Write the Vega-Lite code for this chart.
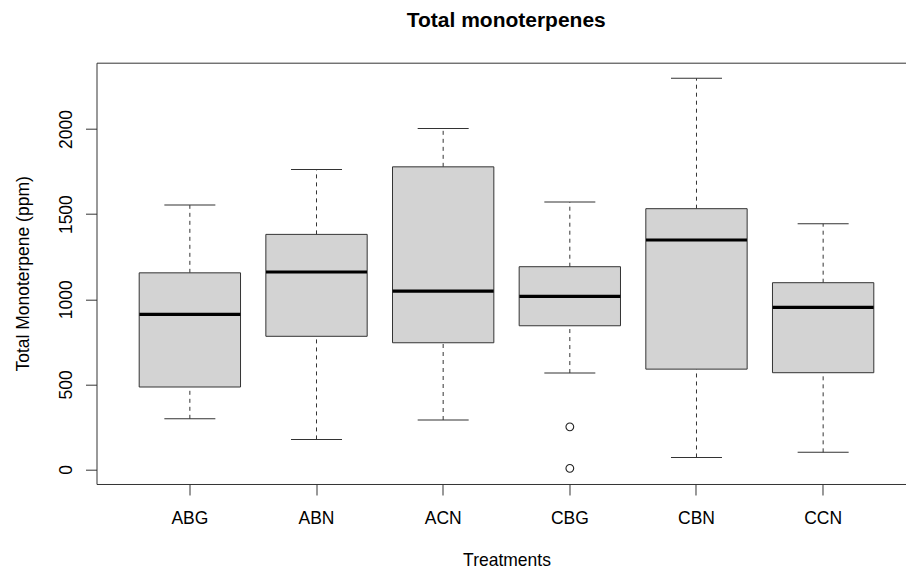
{
  "$schema": "https://vega.github.io/schema/vega-lite/v6.json",
  "width": 809.5,
  "height": 421.3,
  "autosize": "none",
  "padding": {"left": 96.5, "top": 62.7, "right": 0, "bottom": 86.7},
  "background": "white",
  "config": {"view": {"stroke": null}, "font": "Liberation Sans"},
  "title": {"text": "Total monoterpenes", "fontSize": 21, "fontWeight": "bold", "font": "Liberation Sans", "color": "black", "anchor": "middle", "frame": "group", "dx": 5, "offset": 32},
  "datasets": {
    "stats": [
      {"group": "ABG", "lower": 297, "q1": 484, "median": 911, "q3": 1155, "upper": 1553},
      {"group": "ABN", "lower": 176, "q1": 782, "median": 1160, "q3": 1381, "upper": 1763},
      {"group": "ACN", "lower": 290, "q1": 744, "median": 1048, "q3": 1778, "upper": 2004},
      {"group": "CBG", "lower": 566, "q1": 844, "median": 1017, "q3": 1191, "upper": 1571},
      {"group": "CBN", "lower": 70, "q1": 589, "median": 1348, "q3": 1532, "upper": 2298},
      {"group": "CCN", "lower": 100, "q1": 568, "median": 952, "q3": 1097, "upper": 1443}
    ],
    "outliers": [
      {"group": "CBG", "value": 250},
      {"group": "CBG", "value": 6}
    ]
  },
  "resolve": {"axis": {"x": "independent"}},
  "layer": [
    {
      "data": {"name": "stats"},
      "mark": {"type": "rule", "strokeDash": [4, 4], "color": "#333", "strokeWidth": 1},
      "encoding": {
        "x": {"field": "group", "type": "nominal", "sort": null,
          "scale": {"type": "band", "domain": ["ABG", "ABN", "ACN", "CBG", "CBN", "CCN"], "range": [0, 820], "paddingInner": 0, "paddingOuter": 0.237},
          "axis": {"orient": "bottom", "title": "Treatments", "labelAngle": 0, "domain": true, "domainColor": "#333", "tickColor": "#333", "tickSize": 11, "labelPadding": 15, "labelFontSize": 17.5, "labelColor": "black", "labelFont": "Liberation Sans", "titleFontSize": 17.5, "titleFontWeight": "normal", "titleColor": "black", "titleFont": "Liberation Sans", "titleX": 410, "titleY": 82, "titleBaseline": "alphabetic", "titleAnchor": null, "titleAlign": "center"}},
        "y": {"field": "lower", "type": "quantitative",
          "scale": {"domain": [-86, 2390], "nice": false, "zero": false},
          "axis": {"title": "Total Monoterpene (ppm)", "values": [0, 500, 1000, 1500, 2000], "format": "d", "grid": false, "domain": true, "domainColor": "#333", "tickColor": "#333", "tickSize": 11, "labelAngle": 270, "labelPadding": 10, "labelFontSize": 17.5, "labelColor": "black", "labelFont": "Liberation Sans", "titleFontSize": 17.5, "titleFontWeight": "normal", "titleColor": "black", "titleFont": "Liberation Sans", "titleAngle": 270, "titleX": -68.5, "titleY": 210.7, "titleBaseline": "alphabetic", "titleAlign": "center", "titleAnchor": null}},
        "y2": {"field": "q1"}
      }
    },
    {
      "data": {"name": "stats"},
      "mark": {"type": "rule", "strokeDash": [4, 4], "color": "#333", "strokeWidth": 1},
      "encoding": {
        "x": {"field": "group", "type": "nominal", "sort": null, "axis": null},
        "y": {"field": "q3", "type": "quantitative"},
        "y2": {"field": "upper"}
      }
    },
    {
      "data": {"name": "stats"},
      "mark": {"type": "bar", "fill": "#d3d3d3", "stroke": "#333", "strokeWidth": 1, "width": {"band": 0.8}},
      "encoding": {
        "x": {"field": "group", "type": "nominal", "sort": null,
          "axis": {"orient": "top", "domain": true, "domainColor": "#333", "ticks": false, "labels": false, "title": null}},
        "y": {"field": "q1", "type": "quantitative"},
        "y2": {"field": "q3"}
      }
    },
    {
      "data": {"name": "stats"},
      "mark": {"type": "tick", "color": "black", "thickness": 3.2, "size": 101, "opacity": 1},
      "encoding": {
        "x": {"field": "group", "type": "nominal", "sort": null, "axis": null},
        "y": {"field": "median", "type": "quantitative"}
      }
    },
    {
      "data": {"name": "stats"},
      "mark": {"type": "tick", "color": "#333", "thickness": 1, "size": 51, "opacity": 1},
      "encoding": {
        "x": {"field": "group", "type": "nominal", "sort": null, "axis": null},
        "y": {"field": "lower", "type": "quantitative"}
      }
    },
    {
      "data": {"name": "stats"},
      "mark": {"type": "tick", "color": "#333", "thickness": 1, "size": 51, "opacity": 1},
      "encoding": {
        "x": {"field": "group", "type": "nominal", "sort": null, "axis": null},
        "y": {"field": "upper", "type": "quantitative"}
      }
    },
    {
      "data": {"name": "outliers"},
      "mark": {"type": "point", "shape": "circle", "filled": false, "stroke": "#222", "strokeWidth": 1.1, "size": 60, "opacity": 1},
      "encoding": {
        "x": {"field": "group", "type": "nominal", "sort": null, "axis": null},
        "y": {"field": "value", "type": "quantitative"}
      }
    }
  ]
}
